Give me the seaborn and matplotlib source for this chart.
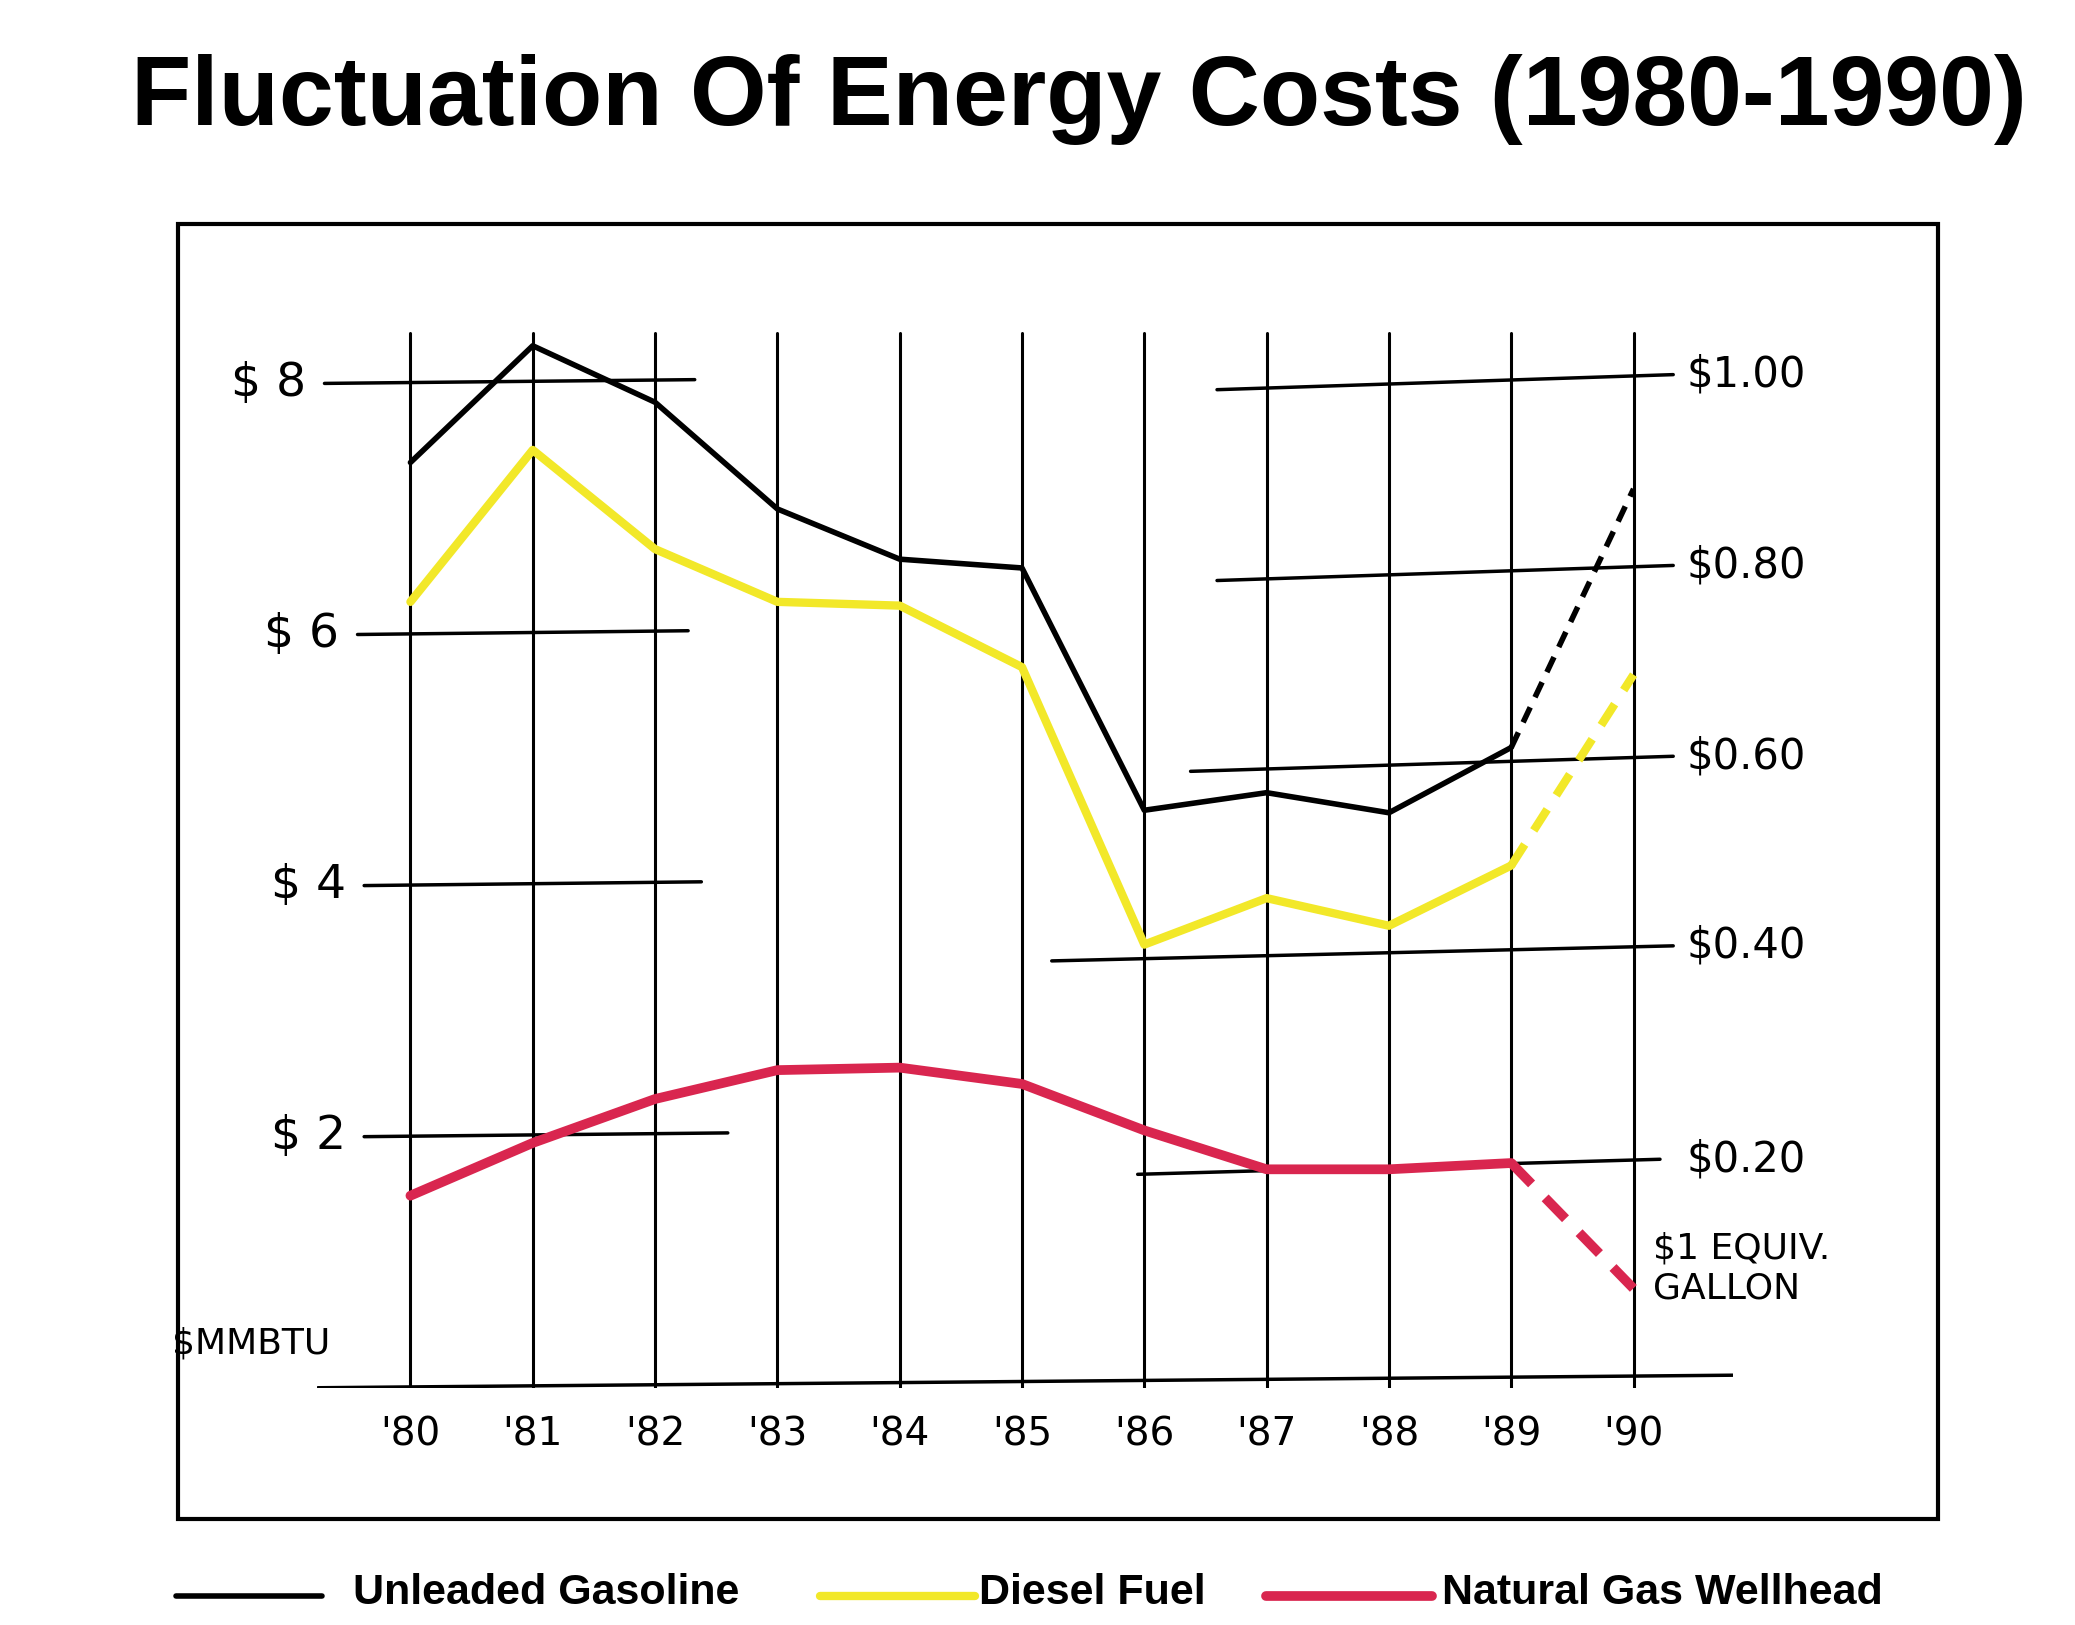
import matplotlib
matplotlib.use("Agg")
import matplotlib.pyplot as plt
import seaborn as sns
import pandas as pd
from matplotlib.lines import Line2D
from matplotlib.patches import Rectangle

# values
years = [1980, 1981, 1982, 1983, 1984, 1985, 1986, 1987, 1988, 1989, 1990]
year_labels = ["'80", "'81", "'82", "'83", "'84", "'85", "'86", "'87", "'88", "'89", "'90"]
gasoline = [7.37, 8.30, 7.85, 7.00, 6.60, 6.53, 4.60, 4.74, 4.58, 5.10, 7.16]
diesel = [6.26, 7.47, 6.68, 6.26, 6.23, 5.74, 3.53, 3.90, 3.68, 4.16, 5.68]
natgas = [1.53, 1.95, 2.30, 2.53, 2.55, 2.42, 2.05, 1.74, 1.74, 1.79, 0.79]
left_ticks = [2, 4, 6, 8]
right_labels = ["$1.00", "$0.80", "$0.60", "$0.40", "$0.20"]
right_levels = [8.07, 6.55, 5.03, 3.52, 1.82]

sns.set_style("white")
plt.rcParams['font.family'] = ['DejaVu Sans']
plt.rcParams['text.color'] = 'black'

fig = plt.figure(figsize=(20.75, 16.25), dpi=100)
ax = fig.add_axes([0.153, 0.146, 0.682, 0.659])
ax.set_xlim(1979.24, 1990.81)
ax.set_ylim(0, 8.53)
ax.axis("off")

def yr(px):
    return 1980 + (px - 310) / 92.5

# sketchy grid
for y in years:
    ax.plot([y, y], [-0.1, 8.4], color="black", lw=2.2)
ax.plot([yr(240), yr(1310)], [0, 0.1], color="black", lw=2.5)
left_spans = {8: (245, 525), 6: (270, 520), 4: (275, 530), 2: (275, 550)}
for v in left_ticks:
    a, b = left_spans[v]
    ax.plot([yr(a), yr(b)], [v, v + 0.03], color="black", lw=2.5)
    ax.text(yr(a) - 0.15, v, "$ " + str(v), ha="right", va="center", fontsize=34)
right_spans = [(920, 1265), (920, 1265), (900, 1265), (795, 1265), (860, 1255)]
for (a, b), lv, lab in zip(right_spans, right_levels, right_labels):
    ax.plot([yr(a), yr(b)], [lv - 0.12, lv], color="black", lw=2.5)
    ax.text(yr(1275), lv, lab, ha="left", va="center", fontsize=30)
ax.text(yr(1250), 0.95, "$1 EQUIV.\nGALLON", ha="left", va="center", fontsize=26)
ax.text(yr(130), 0.35, "$MMBTU", ha="left", va="center", fontsize=26)
for y, lab in zip(years, year_labels):
    ax.text(y, -0.22, lab, ha="center", va="top", fontsize=28)

df = pd.DataFrame({"year": years, "gas": gasoline, "diesel": diesel, "ng": natgas})
solid = df[df.year <= 1989]
dash = df[df.year >= 1989]
for col, color, lw in [("gas", "black", 4), ("diesel", "#f2e829", 6), ("ng", "#d9264f", 7)]:
    sns.lineplot(data=solid, x="year", y=col, color=color, lw=lw, ax=ax)
    sns.lineplot(data=dash, x="year", y=col, color=color, lw=lw, ax=ax, linestyle=(0, (3, 2)))

# frame
fig.patches.append(Rectangle((0.086, 0.065), 0.848, 0.797, transform=fig.transFigure,
                             fill=False, ec="black", lw=3))

fig.text(0.52, 0.939, "Fluctuation Of Energy Costs (1980-1990)", ha="center", va="center",
         fontsize=71, fontweight="bold", family="Liberation Sans")

# legend along bottom
items = [(0.085, 0.155, "black", 4, "Unleaded Gasoline", 0.17),
         (0.395, 0.47, "#f2e829", 6, "Diesel Fuel", 0.472),
         (0.61, 0.69, "#d9264f", 7, "Natural Gas Wellhead", 0.695)]
for x0, x1, c, lw, lab, tx in items:
    fig.add_artist(Line2D([x0, x1], [0.018, 0.018], color=c, lw=lw, transform=fig.transFigure))
    fig.text(tx, 0.02, lab, ha="left", va="center", fontsize=31, fontweight="bold",
             family="Liberation Sans")

fig.savefig("out.png", dpi=100)
